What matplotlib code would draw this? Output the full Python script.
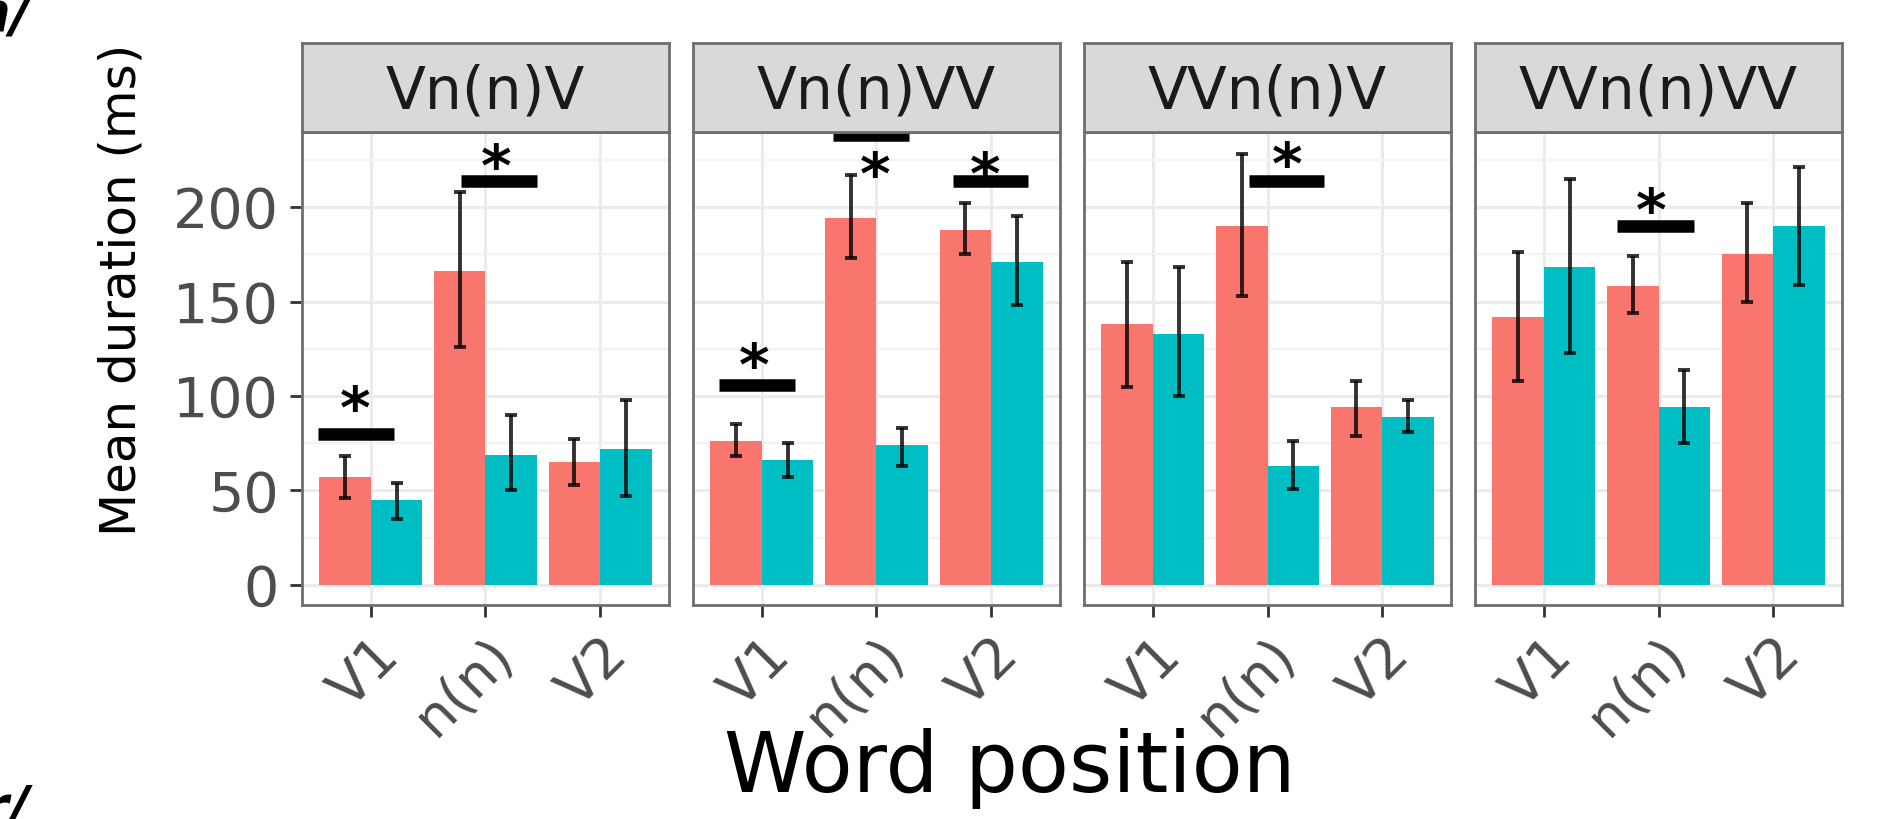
import matplotlib
matplotlib.use("Agg")
import matplotlib.pyplot as plt
import numpy as np

# facets and word positions
panels = ["Vn(n)V", "Vn(n)VV", "VVn(n)V", "VVn(n)VV"]
positions = ["V1", "n(n)", "V2"]

# group 1 (red) means and error bar limits, one row per panel
red_mean = [[57, 166, 65], [76, 194, 188], [138, 190, 94], [142, 158, 175]]
red_lo = [[46, 126, 53], [68, 173, 175], [105, 153, 79], [108, 144, 150]]
red_hi = [[68, 208, 77], [85, 217, 202], [171, 228, 108], [176, 174, 202]]

# group 2 (teal)
teal_mean = [[45, 69, 72], [66, 74, 171], [133, 63, 89], [168, 94, 190]]
teal_lo = [[35, 50, 47], [57, 63, 148], [100, 51, 81], [123, 75, 159]]
teal_hi = [[54, 90, 98], [75, 83, 195], [168, 76, 98], [215, 114, 221]]

# significance marks: panel, bar start, bar end, bar height, star x, star y
sig_panel = [0, 0, 1, 1, 1, 2, 3]
sig_x0 = [0.54, 1.79, 0.63, 1.62, 2.67, 1.84, 1.64]
sig_x1 = [1.20, 2.45, 1.29, 2.28, 3.32, 2.49, 2.31]
sig_y = [80, 214, 106, 238, 214, 214, 190]
star_x = [0.86, 2.09, 0.93, 1.99, 2.95, 2.17, 1.94]
star_y = [100, 228, 123, 224, 224, 229, 205]

W, H = 1890, 819
fig = plt.figure(figsize=(W / 100, H / 100), dpi=100)

RED = "#F8766D"
TEAL = "#00BFC4"
BORDER = "#6E6E6E"
GRID = "#EBEBEB"

left0, step, pw = 302, 391, 367
top, bottom, strip_top = 132, 605, 43

xs = np.arange(1, len(positions) + 1)
bw = 0.45

for p, name in enumerate(panels):
    x0 = left0 + p * step
    ax = fig.add_axes([x0 / W, (H - bottom) / H, pw / W, (bottom - top) / H])
    sax = fig.add_axes([x0 / W, (H - top) / H, pw / W, (top - strip_top) / H])

    # strip
    sax.set_facecolor("#D9D9D9")
    sax.set_xticks([])
    sax.set_yticks([])
    for s in sax.spines.values():
        s.set_color(BORDER)
        s.set_linewidth(2)
    sax.text(0.5, 0.45, name, ha="center", va="center", fontsize=42,
             color="#1A1A1A", transform=sax.transAxes)

    # bars
    rm = np.array(red_mean[p])
    tm = np.array(teal_mean[p])
    ax.bar(xs - bw / 2, rm, width=bw, color=RED, zorder=2)
    ax.bar(xs + bw / 2, tm, width=bw, color=TEAL, zorder=2)
    ax.errorbar(xs - bw / 2, rm,
                yerr=[rm - np.array(red_lo[p]), np.array(red_hi[p]) - rm],
                fmt="none", ecolor="black", elinewidth=2.8, capsize=4,
                capthick=2.8, alpha=0.8, zorder=3)
    ax.errorbar(xs + bw / 2, tm,
                yerr=[tm - np.array(teal_lo[p]), np.array(teal_hi[p]) - tm],
                fmt="none", ecolor="black", elinewidth=2.8, capsize=4,
                capthick=2.8, alpha=0.8, zorder=3)

    # significance bars and stars
    for i in range(len(sig_panel)):
        if sig_panel[i] != p:
            continue
        ax.plot([sig_x0[i], sig_x1[i]], [sig_y[i], sig_y[i]], color="black",
                lw=9, solid_capstyle="butt", zorder=4, clip_on=False)
        ax.text(star_x[i], star_y[i] - 17, "*", ha="center", va="baseline",
                fontsize=42, fontweight="bold", color="black", zorder=5)

    ax.set_xlim(0.4, 3.6)
    ax.set_ylim(-10.6, 239.7)
    ax.set_xticks(xs)
    ax.set_xticklabels(positions, rotation=45, ha="right", va="top",
                       rotation_mode="anchor", fontsize=40, color="#4D4D4D")
    ax.set_yticks([0, 50, 100, 150, 200])
    ax.set_yticks([25, 75, 125, 175, 225], minor=True)
    ax.grid(True, which="major", color=GRID, lw=2.2, zorder=0)
    ax.grid(True, which="minor", axis="y", color="#F2F2F2", lw=1.6, zorder=0)
    ax.set_axisbelow(True)
    ax.tick_params(axis="both", which="major", length=8.5, width=2,
                   color="#333333", pad=8)
    ax.tick_params(axis="y", which="minor", length=0)
    if p == 0:
        ax.tick_params(axis="y", labelsize=40, labelcolor="#4D4D4D")
    else:
        ax.tick_params(axis="y", left=False, labelleft=False)
    for s in ax.spines.values():
        s.set_color(BORDER)
        s.set_linewidth(2)

fig.text(1010 / W, (H - 792) / H, "Word position", ha="center",
         va="baseline", fontsize=60, color="black")
fig.text(122 / W, (H - 290) / H, "Mean duration (ms)", ha="center",
         va="center", rotation=90, fontsize=36, color="black")

# cropped labels at the image edge
fig.text(31 / W, (H - 30) / H, "/n/", ha="right", va="baseline",
         fontsize=40, fontweight="bold", style="italic", color="black")
fig.text(29 / W, (H - 824) / H, "/r/", ha="right", va="baseline",
         fontsize=40, fontweight="bold", style="italic", color="black")

fig.savefig("out.png", dpi=100)
